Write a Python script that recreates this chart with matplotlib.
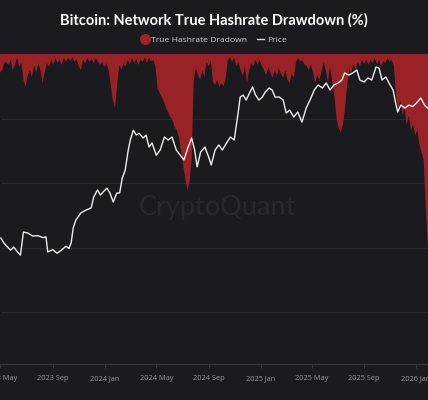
import matplotlib
matplotlib.use("Agg")
import matplotlib.pyplot as plt
import matplotlib.dates as mdates
from matplotlib.lines import Line2D
import pandas as pd

# ---------------- data ----------------
dd_start = "2023-04-30"
dd_step_days = 5
drawdown = [
    -2.9, -2.5, -1.4, -1.2, -1.7, -0.9, -2.5, -1.7, -0.6, -2.0,
    -1.4, -4.0, -5.1, -3.3, -2.5, -3.6, -1.7, -2.9, -1.4, -2.5,
    -4.5, -2.8, -1.4, -2.0, -0.9, -1.7, -0.6, -1.4, -0.9, -1.7,
    -0.6, -1.2, -0.6, -1.1, -0.5, -1.2, -0.8, -1.9, -2.5, -0.9,
    -1.4, -0.6, -1.2, -0.8, -1.4, -0.6, -1.2, -1.7, -1.2, -2.0,
    -1.4, -2.5, -4.8, -7.1, -8.4, -4.8, -1.7, -2.5, -1.4, -2.0,
    -0.9, -1.6, -0.6, -1.4, -0.8, -1.7, -0.9, -1.2, -0.5, -1.4,
    -0.6, -1.2, -0.9, -1.9, -5.3, -6.0, -6.7, -7.4, -8.4, -9.0,
    -9.8, -10.2, -11.3, -11.8, -12.9, -14.9, -17.2, -19.2, -21.1, -19.8,
    -16.4, -4.0, -2.2, -3.3, -4.0, -2.5, -3.6, -1.2, -1.9, -0.9,
    -4.3, -4.8, -4.0, -5.1, -4.5, -5.0, -3.7, -0.9, -0.5, -1.2,
    -0.6, -1.9, -1.2, -2.5, -3.4, -1.9, -4.5, -2.5, -1.4, -1.9,
    -0.9, -1.6, -0.9, -1.9, -2.5, -3.3, -2.0, -2.9, -3.7, -2.5,
    -3.4, -2.2, -3.1, -3.7, -2.5, -4.0, -4.5, -3.1, -3.7, -1.2,
    -0.6, -1.2, -0.9, -1.6, -1.9, -2.5, -1.6, -2.9, -4.5, -3.3,
    -4.0, -2.8, -1.2, -2.5, -4.5, -1.9, -4.3, -6.4, -9.8, -11.5,
    -12.1, -10.9, -8.7, -4.8, -2.2, -2.9, -1.6, -2.5, -1.2, -1.9,
    -0.9, -1.6, -0.8, -1.7, -0.9, -1.4, -0.6, -1.6, -0.9, -1.9,
    -1.1, -1.4, -0.6, -1.2, -0.9, -1.9, -6.4, -8.7, -7.1, -9.5,
    -8.4, -11.0, -9.5, -11.8, -10.9, -12.6, -11.8, -14.1, -15.2, -16.4,
    -24.0, -30.0,
]

price_dates = [
    "2023-05-02", "2023-05-09", "2023-05-16", "2023-05-25", "2023-06-01",
    "2023-06-10", "2023-06-17", "2023-06-24", "2023-07-04", "2023-07-16",
    "2023-07-28", "2023-08-09", "2023-08-16", "2023-08-20", "2023-09-01",
    "2023-09-11", "2023-09-20", "2023-10-02", "2023-10-09", "2023-10-14",
    "2023-10-19", "2023-10-25", "2023-11-06", "2023-11-18", "2023-11-30",
    "2023-12-06", "2023-12-15", "2023-12-22", "2023-12-29", "2024-01-06",
    "2024-01-13", "2024-01-21", "2024-01-29", "2024-02-05", "2024-02-11",
    "2024-02-18", "2024-02-25", "2024-03-01", "2024-03-08", "2024-03-15",
    "2024-03-22", "2024-03-31", "2024-04-07", "2024-04-14", "2024-04-21",
    "2024-05-01", "2024-05-10", "2024-05-20", "2024-05-29", "2024-06-07",
    "2024-06-17", "2024-06-26", "2024-07-05", "2024-07-14", "2024-07-23",
    "2024-07-30", "2024-08-05", "2024-08-13", "2024-08-23", "2024-09-01",
    "2024-09-07", "2024-09-16", "2024-09-25", "2024-10-03", "2024-10-13",
    "2024-10-22", "2024-10-31", "2024-11-10", "2024-11-14", "2024-11-21",
    "2024-11-28", "2024-12-06", "2024-12-13", "2024-12-20", "2024-12-28",
    "2025-01-05", "2025-01-12", "2025-01-21", "2025-01-28", "2025-02-04",
    "2025-02-14", "2025-02-23", "2025-03-02", "2025-03-10", "2025-03-20",
    "2025-03-29", "2025-04-08", "2025-04-18", "2025-04-27", "2025-05-07",
    "2025-05-16", "2025-05-26", "2025-06-04", "2025-06-13", "2025-06-22",
    "2025-07-02", "2025-07-11", "2025-07-17", "2025-07-27", "2025-08-05",
    "2025-08-15", "2025-08-22", "2025-09-01", "2025-09-10", "2025-09-19",
    "2025-09-29", "2025-10-06", "2025-10-13", "2025-10-22", "2025-11-01",
    "2025-11-08", "2025-11-15", "2025-11-19", "2025-11-26", "2025-12-06",
    "2025-12-15", "2025-12-24", "2026-01-02", "2026-01-12", "2026-01-21",
    "2026-01-28",
]
price = [
    28500, 27300, 26500, 25600, 26300,
    25200, 24500, 30050, 29800, 29000,
    29100, 28600, 28800, 25200, 25700,
    24900, 25500, 26500, 26000, 27300,
    31200, 33400, 35600, 36500, 37200,
    41000, 43600, 41700, 43000, 44300,
    42500, 39200, 42400, 42500, 48400,
    52000, 62000, 67900, 74000, 71000,
    72000, 69100, 70900, 63800, 66100,
    59300, 62100, 69700, 67900, 69700,
    62100, 59400, 56900, 63200, 69100,
    62100, 53500, 61000, 63800, 58400,
    54400, 62100, 65000, 62100, 66100,
    69700, 67900, 88500, 99300, 101100,
    96700, 103000, 108600, 101100, 96700,
    99300, 103900, 107600, 105700, 99300,
    99300, 96700, 86200, 88500, 83200,
    87000, 79600, 90100, 96700, 105700,
    110500, 107600, 112500, 105700, 110500,
    112500, 115500, 122900, 120700, 122900,
    126200, 115500, 113500, 117600, 115500,
    129600, 128400, 115500, 118600, 110500,
    105700, 92500, 87000, 92500, 90100,
    92500, 91300, 94200, 98500, 92500,
    90100,
]

title = "Bitcoin: Network True Hashrate Drawdown (%)"
legend_labels = ["True Hashrate Dradown", "Price"]

# ---------------- style ----------------
BG = "#1b1a1f"
RED = "#a02326"
GRID = "#2b2a30"
TICKC = "#9a9aa2"

dd_dates = pd.date_range(dd_start, periods=len(drawdown), freq=f"{dd_step_days}D")
p_dates = pd.to_datetime(price_dates)

fig = plt.figure(figsize=(4.28, 4.0), dpi=100, facecolor=BG)
ax = fig.add_axes([0, 0.09, 1, 0.775])
ax.set_facecolor(BG)

ax.fill_between(dd_dates, drawdown, 0, color=RED, alpha=0.95, linewidth=0, zorder=2)
ax.set_ylim(-48, 0)
ax.set_yticks([-10, -20, -30, -40])
ax.yaxis.grid(True, color=GRID, linewidth=0.8, zorder=0)
ax.tick_params(axis="y", left=False, labelleft=False)
ax.set_xlim(pd.Timestamp("2023-04-30"), pd.Timestamp("2026-01-29"))

ax.xaxis.set_major_locator(mdates.MonthLocator(bymonth=[1, 5, 9]))
ax.xaxis.set_major_formatter(mdates.DateFormatter("%Y %b"))
ax.tick_params(axis="x", colors="#3a3940", length=3, width=0.8, pad=5,
               labelsize=5.3, labelcolor=TICKC)
for lab in ax.get_xticklabels():
    lab.set_fontfamily("Open Sans")
for s in ["top", "left", "right"]:
    ax.spines[s].set_visible(False)
ax.spines["bottom"].set_color("#37363c")
ax.spines["bottom"].set_linewidth(0.8)

ax2 = ax.twinx()
ax2.set_yscale("log")
ax2.plot(p_dates, price, color="#ececec", linewidth=1.0, zorder=3)
ax2.set_ylim(9340, 145400)
ax2.set_xlim(pd.Timestamp("2023-04-30"), pd.Timestamp("2026-01-29"))
ax2.tick_params(axis="y", right=False, labelright=False, which="both")
for s in ["top", "left", "right", "bottom"]:
    ax2.spines[s].set_visible(False)

# watermark
fig.text(0.507, 1 - 208 / 400, "CryptoQuant", ha="center", va="center",
         fontsize=19.5, color="#29282e", family="Lato", zorder=1)

fig.text(0.5, 1 - 20 / 400, title, ha="center", va="center",
         fontsize=10.5, fontweight="bold", color="white", family="Lato")

handles = [
    Line2D([], [], marker="o", linestyle="none", markersize=7,
           markerfacecolor=RED, markeredgecolor=RED),
    Line2D([], [], color="#d8d8d8", linewidth=1.0),
]
leg = fig.legend(handles, legend_labels, loc="center",
                 bbox_to_anchor=(0.5, 1 - 40 / 400), ncol=2, frameon=False,
                 labelcolor="#d4d4d4", handlelength=0.9,
                 handletextpad=0.3, columnspacing=1.1,
                 prop={"family": "Open Sans", "size": 6.1})

fig.savefig("out.png", dpi=100, facecolor=BG)
